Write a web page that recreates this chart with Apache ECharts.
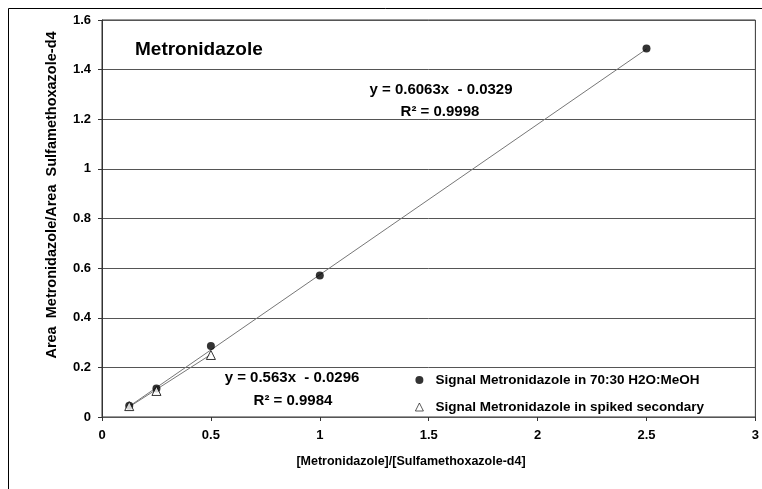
<!DOCTYPE html>
<html>
<head>
<meta charset="utf-8">
<script src="https://cdn.jsdelivr.net/npm/echarts@6/dist/echarts.min.js"></script>
<style>
  html, body { margin: 0; padding: 0; background: #fff; }
  #chart { width: 762px; height: 489px; }
</style>
</head>
<body>
<div id="chart"></div>
<script>
// Calibration data: ratio of concentrations vs ratio of peak areas
const seriesNames = ['Signal Metronidazole in 70:30 H2O:MeOH', 'Signal Metronidazole in spiked secondary'];
const solventX = [0.125, 0.25, 0.5, 1, 2.5];
const solventY = [0.045, 0.115, 0.286, 0.57, 1.485];
const spikedX = [0.125, 0.25, 0.5];
const spikedY = [0.044, 0.105, 0.25];

// Linear fits (slope, intercept, R²) as printed on the chart
const solventFit = { slope: 0.6063, intercept: -0.0329, r2: '0.9998' };
const spikedFit = { slope: 0.563, intercept: -0.0296, r2: '0.9984' };

const xTicks = ['0', '0.5', '1', '1.5', '2', '2.5', '3'];
const yTicks = ['0', '0.2', '0.4', '0.6', '0.8', '1', '1.2', '1.4', '1.6'];

const font = 'Liberation Sans, Arial, sans-serif';

function pairs(xs, ys) { return xs.map((x, i) => [x, ys[i]]); }
function fitLine(fit, xs) {
  const x0 = Math.min(...xs), x1 = Math.max(...xs);
  return [[x0, fit.slope * x0 + fit.intercept], [x1, fit.slope * x1 + fit.intercept]];
}
function eqText(fit) {
  return 'y = ' + fit.slope + 'x  - ' + Math.abs(fit.intercept).toFixed(4);
}

const chart = echarts.init(document.getElementById('chart'), null, { renderer: 'canvas' });

const labelStyle = { fontFamily: font, fontWeight: 'bold', fontSize: 13, color: '#000' };

chart.setOption({
  animation: false,
  backgroundColor: '#fff',
  grid: { left: 102, top: 20, right: 1, bottom: 72, show: true, borderColor: '#333', borderWidth: 1 },
  xAxis: {
    type: 'value', min: 0, max: 3, interval: 0.5,
    axisLine: { show: true, lineStyle: { color: '#555', width: 1 } },
    axisTick: { show: true, inside: false, length: 4, lineStyle: { color: '#333' } },
    axisLabel: Object.assign({ margin: 12, formatter: (v) => xTicks[Math.round(v / 0.5)] }, labelStyle),
    splitLine: { show: false }
  },
  yAxis: {
    type: 'value', min: 0, max: 1.6, interval: 0.2,
    axisLine: { show: true, lineStyle: { color: '#333', width: 1 } },
    axisTick: { show: true, inside: false, length: 4, lineStyle: { color: '#333' } },
    axisLabel: Object.assign({ margin: 11, formatter: (v) => yTicks[Math.round(v / 0.2)] }, labelStyle),
    splitLine: { show: true, lineStyle: { color: '#555', width: 1 } }
  },
  legend: {
    orient: 'vertical', left: 410, top: 368, itemGap: 13,
    itemWidth: 8, itemHeight: 8,
    data: [
      { name: seriesNames[0], icon: 'circle', itemStyle: { color: '#000' } },
      { name: seriesNames[1], icon: 'triangle', itemStyle: { color: '#fff', borderColor: '#000', borderWidth: 0.8 } }
    ],
    textStyle: { fontFamily: font, fontWeight: 'bold', fontSize: 13.5, color: '#000', padding: [0, 0, 0, 7] }
  },
  series: [
    {
      type: 'line', data: fitLine(solventFit, solventX), symbol: 'none', silent: true,
      lineStyle: { color: '#777', width: 1 }, z: 2
    },
    {
      type: 'line', data: fitLine(spikedFit, spikedX), symbol: 'none', silent: true,
      lineStyle: { color: '#777', width: 1 }, z: 2
    },
    {
      name: seriesNames[0], type: 'scatter', data: pairs(solventX, solventY),
      symbol: 'circle', symbolSize: 8,
      itemStyle: { color: '#000' }, z: 3
    },
    {
      name: seriesNames[1], type: 'scatter', data: pairs(spikedX, spikedY),
      symbol: 'triangle', symbolSize: 9,
      itemStyle: { color: '#fff', borderColor: '#000', borderWidth: 1 }, z: 4
    }
  ],
  graphic: [
    { type: 'rect', shape: { x: 8.5, y: 8.5, width: 800, height: 520 }, style: { fill: 'none', stroke: '#000', lineWidth: 1 }, z: -10, silent: true },
    { type: 'text', x: 135, y: 50, style: { text: 'Metronidazole', font: 'bold 19px ' + font, fill: '#000', textVerticalAlign: 'middle' } },
    { type: 'text', x: 441, y: 90, style: { text: eqText(solventFit), font: 'bold 15px ' + font, fill: '#000', textAlign: 'center', textVerticalAlign: 'middle' } },
    { type: 'text', x: 440, y: 112, style: { text: 'R² = ' + solventFit.r2, font: 'bold 15px ' + font, fill: '#000', textAlign: 'center', textVerticalAlign: 'middle' } },
    { type: 'text', x: 292, y: 378, style: { text: eqText(spikedFit), font: 'bold 15px ' + font, fill: '#000', textAlign: 'center', textVerticalAlign: 'middle' } },
    { type: 'text', x: 293, y: 401, style: { text: 'R² = ' + spikedFit.r2, font: 'bold 15px ' + font, fill: '#000', textAlign: 'center', textVerticalAlign: 'middle' } },
    { type: 'text', x: 411, y: 462, style: { text: '[Metronidazole]/[Sulfamethoxazole-d4]', font: 'bold 12.5px ' + font, fill: '#000', textAlign: 'center', textVerticalAlign: 'middle' } },
    { type: 'text', x: 52, y: 195, rotation: Math.PI / 2, style: { text: 'Area  Metronidazole/Area  Sulfamethoxazole-d4', font: 'bold 14.5px ' + font, fill: '#000', textAlign: 'center', textVerticalAlign: 'middle' } }
  ]
});
</script>
</body>
</html>
